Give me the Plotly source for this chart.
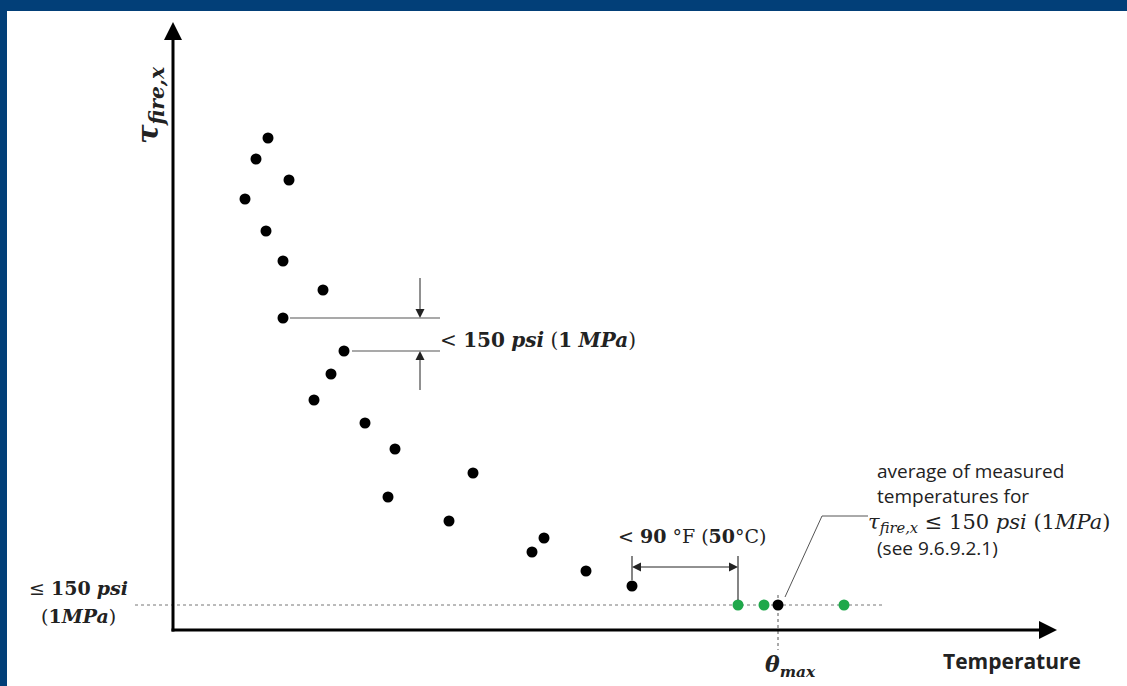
import plotly.graph_objects as go

# Data (arbitrary units; origin at axes corner)
black_x = [95, 83, 116, 72, 93, 110, 150, 110, 171, 158, 141, 192, 222, 300, 215, 276, 371, 359, 413, 459]
black_y = [492, 471, 450, 431, 399, 369, 340, 312, 279, 256, 230, 207, 181, 157, 133, 109, 92, 78, 59, 44]
green_x = [565, 591, 671]
green_y = [25, 25, 25]
theta_max_x = [605]
theta_max_y = [25]
threshold = 25

SERIF = "DejaVu Serif"
SANS = "Open Sans"

fig = go.Figure()

# arrowheads (decorations); tip of arrow symbol sits at the given point
def head(x, y, sym, size, color="black"):
    fig.add_trace(go.Scatter(x=[x], y=[y], mode="markers", showlegend=False, hoverinfo="skip",
                             marker=dict(symbol=sym, size=size, color=color, line=dict(width=0))))

shapes = []
# blue frame
shapes.append(dict(type="rect", xref="paper", yref="paper", x0=0, x1=1, y0=1 - 11 / 686, y1=1,
                   fillcolor="#023f78", line=dict(width=0), layer="above"))
shapes.append(dict(type="rect", xref="paper", yref="paper", x0=0, x1=7 / 1127, y0=0, y1=1,
                   fillcolor="#023f78", line=dict(width=0), layer="above"))
# axes
shapes.append(dict(type="line", x0=0, x1=0, y0=-1.5, y1=598, line=dict(color="black", width=3)))
shapes.append(dict(type="line", x0=-1.5, x1=874, y0=0, y1=0, line=dict(color="black", width=3)))
head(0, 608, "arrow-up", 18)
head(884, 0, "arrow-right", 18)
# threshold dotted line
shapes.append(dict(type="line", x0=-38, x1=712, y0=threshold, y1=threshold,
                   line=dict(color="#777", width=1, dash="dot"), layer="below"))
# theta max vertical dotted
shapes.append(dict(type="line", x0=theta_max_x[0], x1=theta_max_x[0], y0=35, y1=-20,
                   line=dict(color="#555", width=1, dash="dot"), layer="below"))
# dimension lines for 150 psi
shapes.append(dict(type="line", x0=117, x1=267, y0=312, y1=312, line=dict(color="#555", width=1.2)))
shapes.append(dict(type="line", x0=179, x1=267, y0=279, y1=279, line=dict(color="#555", width=1.2)))
shapes.append(dict(type="line", x0=247, x1=247, y0=352, y1=318, line=dict(color="#222", width=1)))
shapes.append(dict(type="line", x0=247, x1=247, y0=240, y1=273, line=dict(color="#222", width=1)))
head(247, 312, "arrow-down", 9, "#222")
head(247, 279, "arrow-up", 9, "#222")
# 90F extension lines and double arrow
shapes.append(dict(type="line", x0=459, x1=459, y0=74, y1=50, line=dict(color="#333", width=1.2)))
shapes.append(dict(type="line", x0=565, x1=565, y0=74, y1=30, line=dict(color="#333", width=1.2)))
shapes.append(dict(type="line", x0=463, x1=561, y0=63, y1=63, line=dict(color="#222", width=1)))
head(459, 63, "arrow-left", 9, "#222")
head(565, 63, "arrow-right", 9, "#222")
# leader line
shapes.append(dict(type="path", path="M 612 33 L 649 114 L 695 114", line=dict(color="#555", width=1)))

fig.add_trace(go.Scatter(x=black_x, y=black_y, mode="markers",
                         marker=dict(color="black", size=11), showlegend=False, hoverinfo="skip"))
fig.add_trace(go.Scatter(x=green_x, y=green_y, mode="markers",
                         marker=dict(color="#1fa84a", size=11), showlegend=False, hoverinfo="skip"))
fig.add_trace(go.Scatter(x=theta_max_x, y=theta_max_y, mode="markers",
                         marker=dict(color="black", size=11), showlegend=False, hoverinfo="skip"))

ann = []

def txt(x, y, text, size, family, xanchor="center", angle=0, color="#222"):
    ann.append(dict(x=x, y=y, xref="x", yref="y", text=text, showarrow=False, xanchor=xanchor,
                    yanchor="middle", textangle=angle, font=dict(size=size, family=family, color=color)))

txt(265, 290, "< <b>150</b> <b><i>psi</i></b> (<b>1</b> <b><i>MPa</i></b>)", 20, SERIF, xanchor="left")
txt(519, 94, "< <b>90</b> °F (<b>50</b>°C)", 19, SERIF)
txt(702, 159, "average of measured", 19, SANS, xanchor="left")
txt(702, 134, "temperatures for", 19, SANS, xanchor="left")
txt(693, 107, "<i>τ</i><sub><i>fire,x</i></sub> ≤ 150 <i>psi</i> (1<i>MPa</i>)", 21, SERIF, xanchor="left")
txt(702, 82, "(see 9.6.9.2.1)", 19, SANS, xanchor="left")
txt(839, -31, "<b>Temperature</b>", 21, SANS)
txt(617, -36, "<b><i>θ</i></b><sub><b><i>max</i></b></sub>", 22, SERIF)
txt(-23, 525, "<b><i>τ</i></b><sub><b><i>fire,x</i></b></sub>", 29, SERIF, angle=-90)
txt(-95, 42, "≤ <b>150</b> <b><i>psi</i></b>", 19, SERIF)
txt(-95, 14, "(<b>1</b><b><i>MPa</i></b>)", 19, SERIF)

fig.update_layout(
    width=1127, height=686, autosize=False,
    margin=dict(l=0, r=0, t=0, b=0, pad=0),
    paper_bgcolor="white", plot_bgcolor="white",
    xaxis=dict(range=[-173, 954], visible=False, fixedrange=True),
    yaxis=dict(range=[-56, 630], visible=False, fixedrange=True),
    shapes=shapes, annotations=ann, showlegend=False,
)
fig.write_html("out.html")
